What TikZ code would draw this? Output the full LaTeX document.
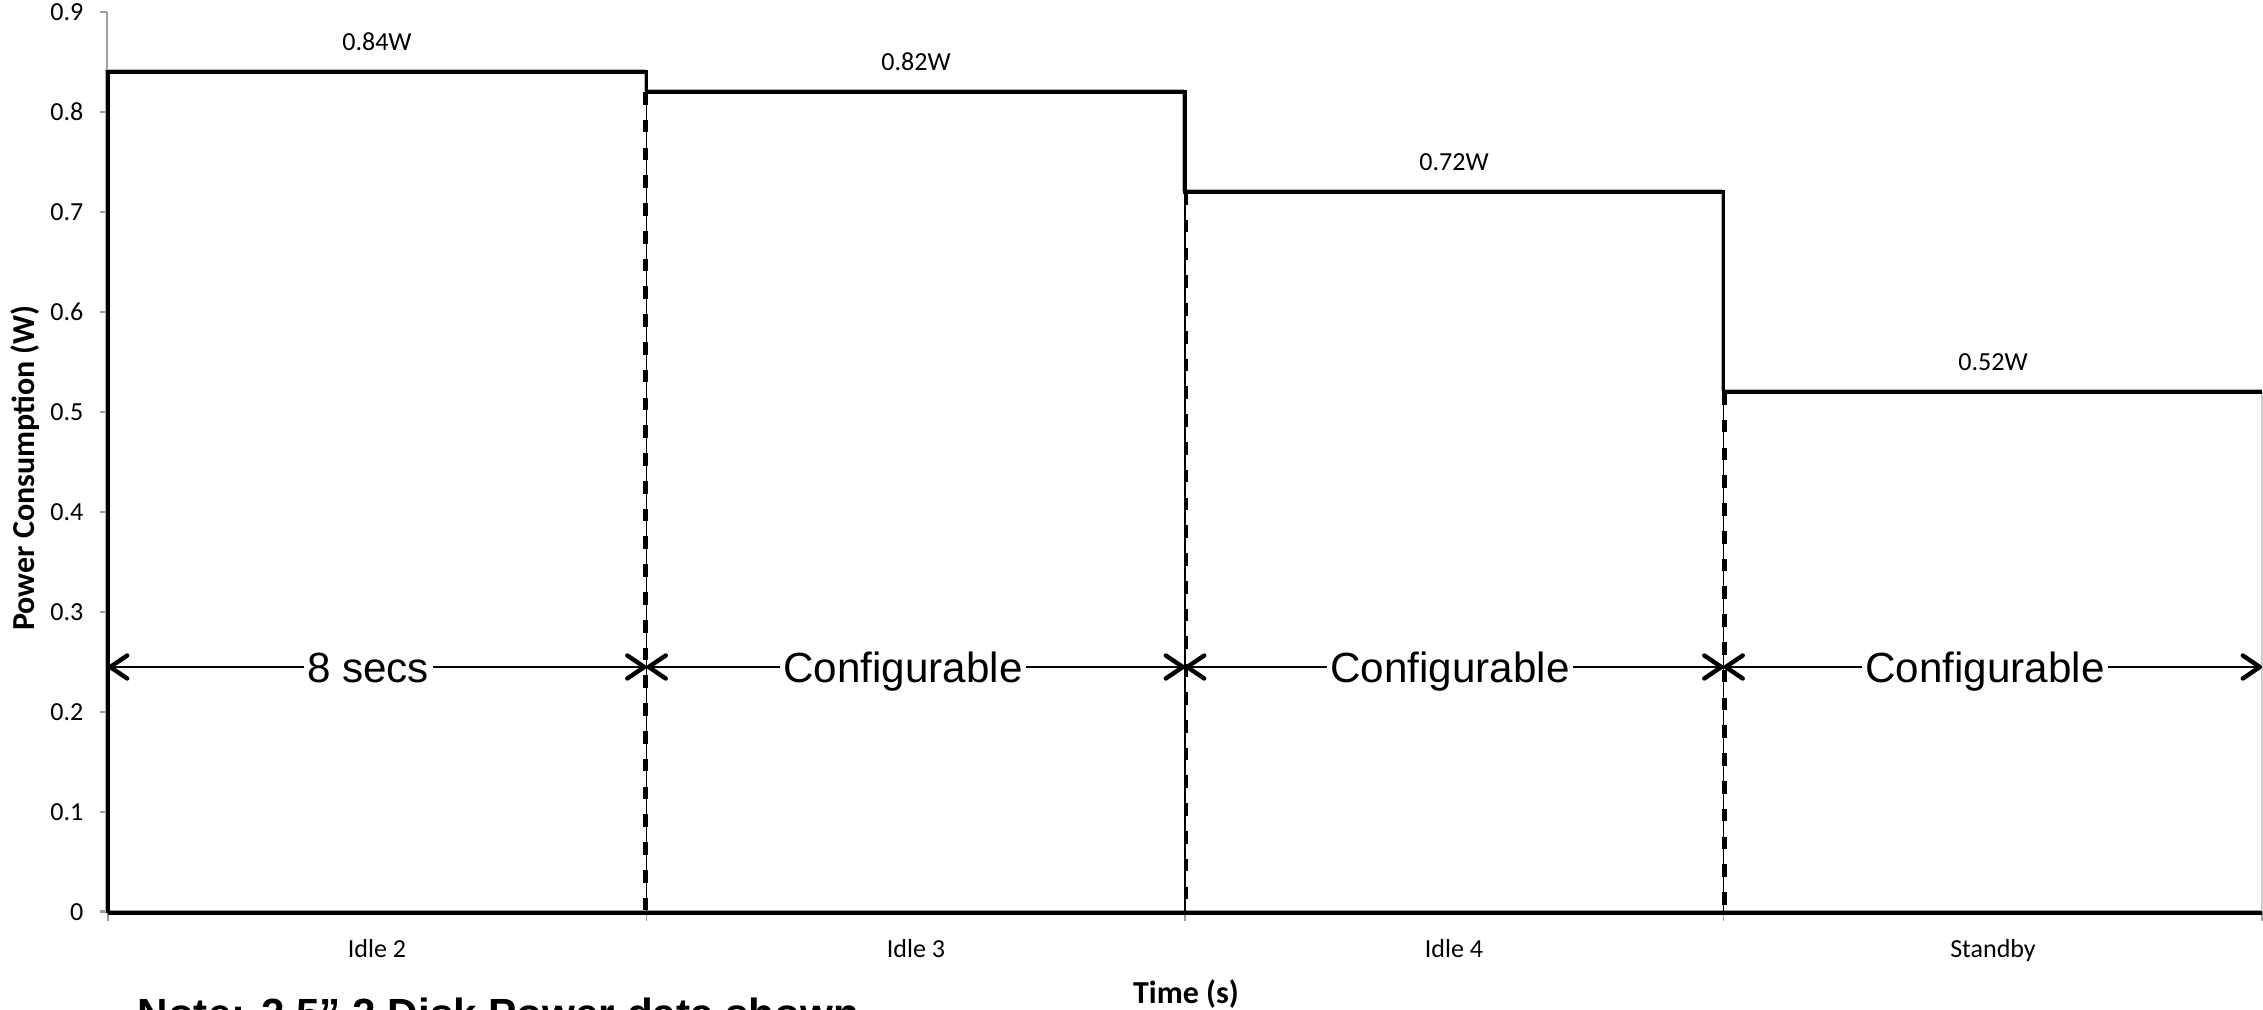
\documentclass[tikz,border=0pt]{standalone}
\usepackage{fontspec}
\setmainfont{Carlito}
\newfontfamily\arialf{Liberation Sans}
\usetikzlibrary{arrows.meta}
\begin{document}
\begin{tikzpicture}[x=0.01cm,y=-0.01cm,
  axisline/.style={draw=black!38, line width=0.45pt},
  stepline/.style={draw=black, line width=1.05pt},
  stepshade/.style={draw=black!30, line width=0.4pt},
  divsolid/.style={draw=black, line width=0.55pt},
  divdash/.style={draw=black, line width=1.3pt, dash pattern=on 3.6pt off 4.3pt},
  ticklab/.style={font=\fontsize{7.4}{9}\selectfont, inner sep=0pt},
  catlab/.style={font=\fontsize{7.4}{9}\selectfont, inner sep=0pt, anchor=base},
  vallab/.style={font=\fontsize{7.4}{9}\selectfont, inner sep=0pt},
  axtitle/.style={font=\fontsize{9.1}{11}\selectfont\bfseries, inner sep=0pt},
  dimarrow/.style={line width=0.6pt,
    {Straight Barb[length=0.17cm,width=0.23cm,line width=1.25pt,round]}-{Straight Barb[length=0.17cm,width=0.23cm,line width=1.25pt,round]}},
  dimlab/.style={font=\arialf\fontsize{12}{14}\selectfont, fill=white, inner xsep=1pt, inner ysep=0pt, anchor=base},
  notelab/.style={font=\arialf\fontsize{12}{14}\selectfont\bfseries, inner sep=0pt, anchor=base west}
]
\useasboundingbox (0,0) rectangle (2263,1010);
\clip (0,0) rectangle (2263,1010);

% named coordinates
\coordinate (o) at (108,912);
\coordinate (x1) at (646.5,912);
\coordinate (x2) at (1185,912);
\coordinate (x3) at (1723.5,912);
\coordinate (x4) at (2262,912);
\coordinate (t1) at (646.5,92);
\coordinate (t2) at (1185,192);
\coordinate (t3) at (1723.5,392);

% axes (grey)
\draw[axisline] (107,12) -- (107,912);
\foreach \i in {0,...,9} {
  \draw[axisline] (100,{912-100*\i}) -- (107,{912-100*\i});
}
\draw[axisline] (100,911) -- (2262,911);
\foreach \xx in {108,646.5,1185,1723.5,2262} {
  \draw[axisline] (\xx,911) -- (\xx,921);
}
\draw[draw=black!20, line width=0.4pt] (2262,392) -- (2262,912);

% y tick labels
\node[ticklab, anchor=east] (yl0) at (84,912) {0};
\foreach \i in {1,...,9} {
  \node[ticklab, anchor=east] (yl\i) at (84,{912-100*\i}) {0.\i};
}

% step shading and step line
\draw[stepshade] (106,913) -- (106,70) -- (644.5,70) -- (644.5,90) -- (1183,90) -- (1183,190) -- (1721.5,190) -- (1721.5,390) -- (2262,390);
\draw[stepline] (108,913) -- (108,72) -- (646.5,72) -- (646.5,92) -- (1185,92) -- (1185,192) -- (1723.5,192) -- (1723.5,392) -- (2262,392);
\draw[stepline] (108,913) -- (2262,913);

% dividers
\draw[divsolid] (t1) -- (x1);
\draw[divsolid] (t2) -- (x2);
\draw[divsolid] (t3) -- (x3);
\draw[divdash] ([xshift=-0.01cm]t1) -- ([xshift=-0.01cm]x1);
\draw[divdash] ([xshift=0.01cm]t2) -- ([xshift=0.01cm]x2);
\draw[divdash] ([xshift=0.01cm]t3) -- ([xshift=0.01cm]x3);

% value labels
\node[vallab] (v1) at (377,42) {0.84W};
\node[vallab] (v2) at (916,62) {0.82W};
\node[vallab] (v3) at (1454,162) {0.72W};
\node[vallab] (v4) at (1993,362) {0.52W};

% dimension arrows
\coordinate (a0) at (108,667);
\coordinate (a1) at (646.5,667);
\coordinate (a2) at (1185,667);
\coordinate (a3) at (1723.5,667);
\coordinate (a4) at (2262,667);
\draw[dimarrow] (a0) -- (a1);
\draw[dimarrow] (a1) -- (a2);
\draw[dimarrow] (a2) -- (a3);
\draw[dimarrow] (a3) -- (a4);
\node[dimlab] (d1) at (368,683) {8 secs};
\node[dimlab] (d2) at (903,683) {Configurable};
\node[dimlab] (d3) at (1450,683) {Configurable\ };
\node[dimlab] (d4) at (1985,683) {Configurable};

% category labels
\node[catlab] (c1) at (377,957) {Idle 2};
\node[catlab] (c2) at (916,957) {Idle 3};
\node[catlab] (c3) at (1454,957) {Idle 4};
\node[catlab] (c4) at (1993,957) {Standby};

% axis titles
\node[axtitle, anchor=base] (xt) at (1186,1003) {Time (s)};
\node[axtitle, rotate=90] (yt) at (25,468) {Power Consumption (W)};

% note (cut off at the bottom edge, as in the reference)
\node[notelab] (note) at (137,1028) {Note: 2.5” 2 Disk Power data shown};
\end{tikzpicture}
\end{document}
